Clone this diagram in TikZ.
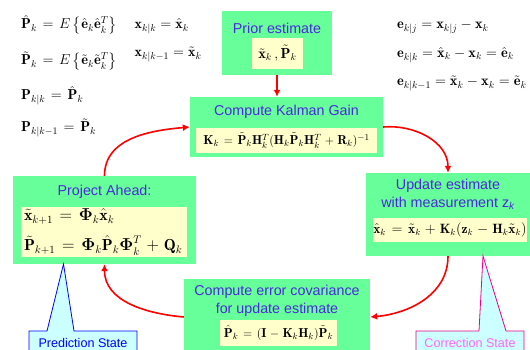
\documentclass[tikz,border=0pt]{standalone}
\usepackage{amsmath}
\usepackage{fontspec}
\newfontfamily\arialfont{Liberation Sans}
\usetikzlibrary{arrows.meta,positioning}
\definecolor{boxgreen}{RGB}{102,255,153}
\definecolor{lightyellow}{RGB}{255,255,204}
\definecolor{titleblue}{RGB}{76,40,220}
\definecolor{calloutcyan}{RGB}{204,255,255}
\definecolor{callpink}{RGB}{255,102,255}
\newcommand{\boxgaps}{\thickmuskip=7mu\relax\medmuskip=5mu\relax}

\begin{document}
\begin{tikzpicture}[x=1pt, y=1pt,
    greenbox/.style={fill=boxgreen, inner sep=0pt},
    yelbox/.style={fill=lightyellow, inner sep=0pt, font=\fontsize{#1}{#1}\selectfont},
    boxtitle/.style={text=titleblue, align=center, inner sep=0pt, font=\arialfont\fontsize{14.3}{18}\selectfont},
    eqn/.style={anchor=base west, inner sep=0pt, font=\fontsize{#1}{#1}\selectfont},
    statetext/.style={inner sep=0pt, font=\arialfont\fontsize{12.6}{14}\selectfont},
    arr/.style={-{Latex[length=7pt,width=7pt]}, red, line width=1.6pt}
]
\clip (0,0) rectangle (530,350);

\node[eqn=14.4] (pcov1) at (21,321) {$\boxgaps\hat{\mathbf{P}}_k=E\left\{\hat{\mathbf{e}}_k\hat{\mathbf{e}}_k^T\right\}$};
\node[eqn=14.4] (pcov2) at (21,285) {$\boxgaps\tilde{\mathbf{P}}_k=E\left\{\tilde{\mathbf{e}}_k\tilde{\mathbf{e}}_k^T\right\}$};
\node[eqn=14.4] (pcov3) at (21,250) {$\boxgaps\mathbf{P}_{k|k}=\hat{\mathbf{P}}_k$};
\node[eqn=14.4] (pcov4) at (21,218) {$\boxgaps\mathbf{P}_{k|k-1}=\tilde{\mathbf{P}}_k$};
\node[eqn=14] (xest1) at (134.5,321) {$\mathbf{x}_{k|k}=\hat{\mathbf{x}}_k$};
\node[eqn=14] (xest2) at (134.5,293) {$\mathbf{x}_{k|k-1}=\tilde{\mathbf{x}}_k$};
\node[eqn=14.4] (err1) at (397,321) {$\mathbf{e}_{k|j}=\mathbf{x}_{k|j}-\mathbf{x}_k$};
\node[eqn=14.4] (err2) at (397,292.5) {$\mathbf{e}_{k|k}=\hat{\mathbf{x}}_k-\mathbf{x}_k=\hat{\mathbf{e}}_k$};
\node[eqn=14.4] (err3) at (397,264) {$\mathbf{e}_{k|k-1}=\tilde{\mathbf{x}}_k-\mathbf{x}_k=\tilde{\mathbf{e}}_k$};

\node[greenbox, minimum width=110, minimum height=64] (prior) at (277,307) {};
\node[boxtitle] (priort) at (277,322) {Prior estimate};
\node[yelbox=14.5, minimum width=51, minimum height=31] (priorm) at (277.5,296.5) {$\tilde{\mathbf{x}}_k\,,\tilde{\mathbf{P}}_k$};

\node[greenbox, minimum width=193, minimum height=60] (gain) at (286.5,223) {};
\node[boxtitle] (gaint) at (286.5,238) {Compute Kalman Gain};
\node[yelbox=13, minimum width=181, minimum height=25] (gainm) at (286.5,209.5) {$\boxgaps\mathbf{K}_k=\tilde{\mathbf{P}}_k\mathbf{H}_k^T(\mathbf{H}_k\tilde{\mathbf{P}}_k\mathbf{H}_k^T+\mathbf{R}_k)^{-1}$};

\node[greenbox, minimum width=164, minimum height=83] (update) at (448,135.5) {};
\node[boxtitle] (updatet) at (448,156) {Update estimate\\with measurement z\textsubscript{\itshape k}};
\node[yelbox=13.5, minimum width=152, minimum height=24] (updatem) at (450,120) {$\boxgaps\hat{\mathbf{x}}_k=\tilde{\mathbf{x}}_k+\mathbf{K}_k(\mathbf{z}_k-\mathbf{H}_k\tilde{\mathbf{x}}_k)$};

\node[greenbox, minimum width=183, minimum height=88] (project) at (104.5,130) {};
\node[boxtitle] (projectt) at (104.5,158) {Project Ahead:};
\node[yelbox=16, minimum width=166, minimum height=50, text width=160, align=left] (projectm) at (104,118) {$\boxgaps\tilde{\mathbf{x}}_{k+1}=\boldsymbol{\Phi}_k\hat{\mathbf{x}}_k$\\[10pt]$\boxgaps\tilde{\mathbf{P}}_{k+1}=\boldsymbol{\Phi}_k\hat{\mathbf{P}}_k\boldsymbol{\Phi}_k^T+\mathbf{Q}_k$};

\node[greenbox, minimum width=186, minimum height=76] (errcov) at (277,33) {};
\node[boxtitle] (errcovt) at (277,49) {Compute error covariance\\for update estimate};
\node[yelbox=13, minimum width=117, minimum height=26] (errcovm) at (278.5,17) {$\boxgaps\hat{\mathbf{P}}_k=(\mathbf{I}-\mathbf{K}_k\mathbf{H}_k)\tilde{\mathbf{P}}_k$};

\coordinate (predtip) at (63.5,86);
\coordinate (corrtip) at (483,94);
\draw[blue, fill=calloutcyan, line width=0.8pt] (29,19) -- (47,19) -- (predtip) -- (74,19) -- (137,19) -- (137,-10) -- (29,-10) -- cycle;
\node[statetext, text=blue] (pred) at (83,7) {Prediction State};
\draw[magenta, fill=calloutcyan, line width=0.8pt] (416,19) -- (479,19) -- (corrtip) -- (506,19) -- (524,19) -- (524,-10) -- (416,-10) -- cycle;
\node[statetext, text=callpink] (corr) at (470,7) {Correction State};

\draw[arr] (prior.south) -- (prior.south |- gain.north);
\draw[arr] (gain.east) to[out=5,in=90] (update.north);
\draw[arr] (update.south) to[out=-90,in=5] (errcov.east);
\draw[arr] (errcov.west) to[out=175,in=-90] (project.south);
\draw[arr] (project.north) to[out=90,in=185] (gain.west);
\end{tikzpicture}
\end{document}
